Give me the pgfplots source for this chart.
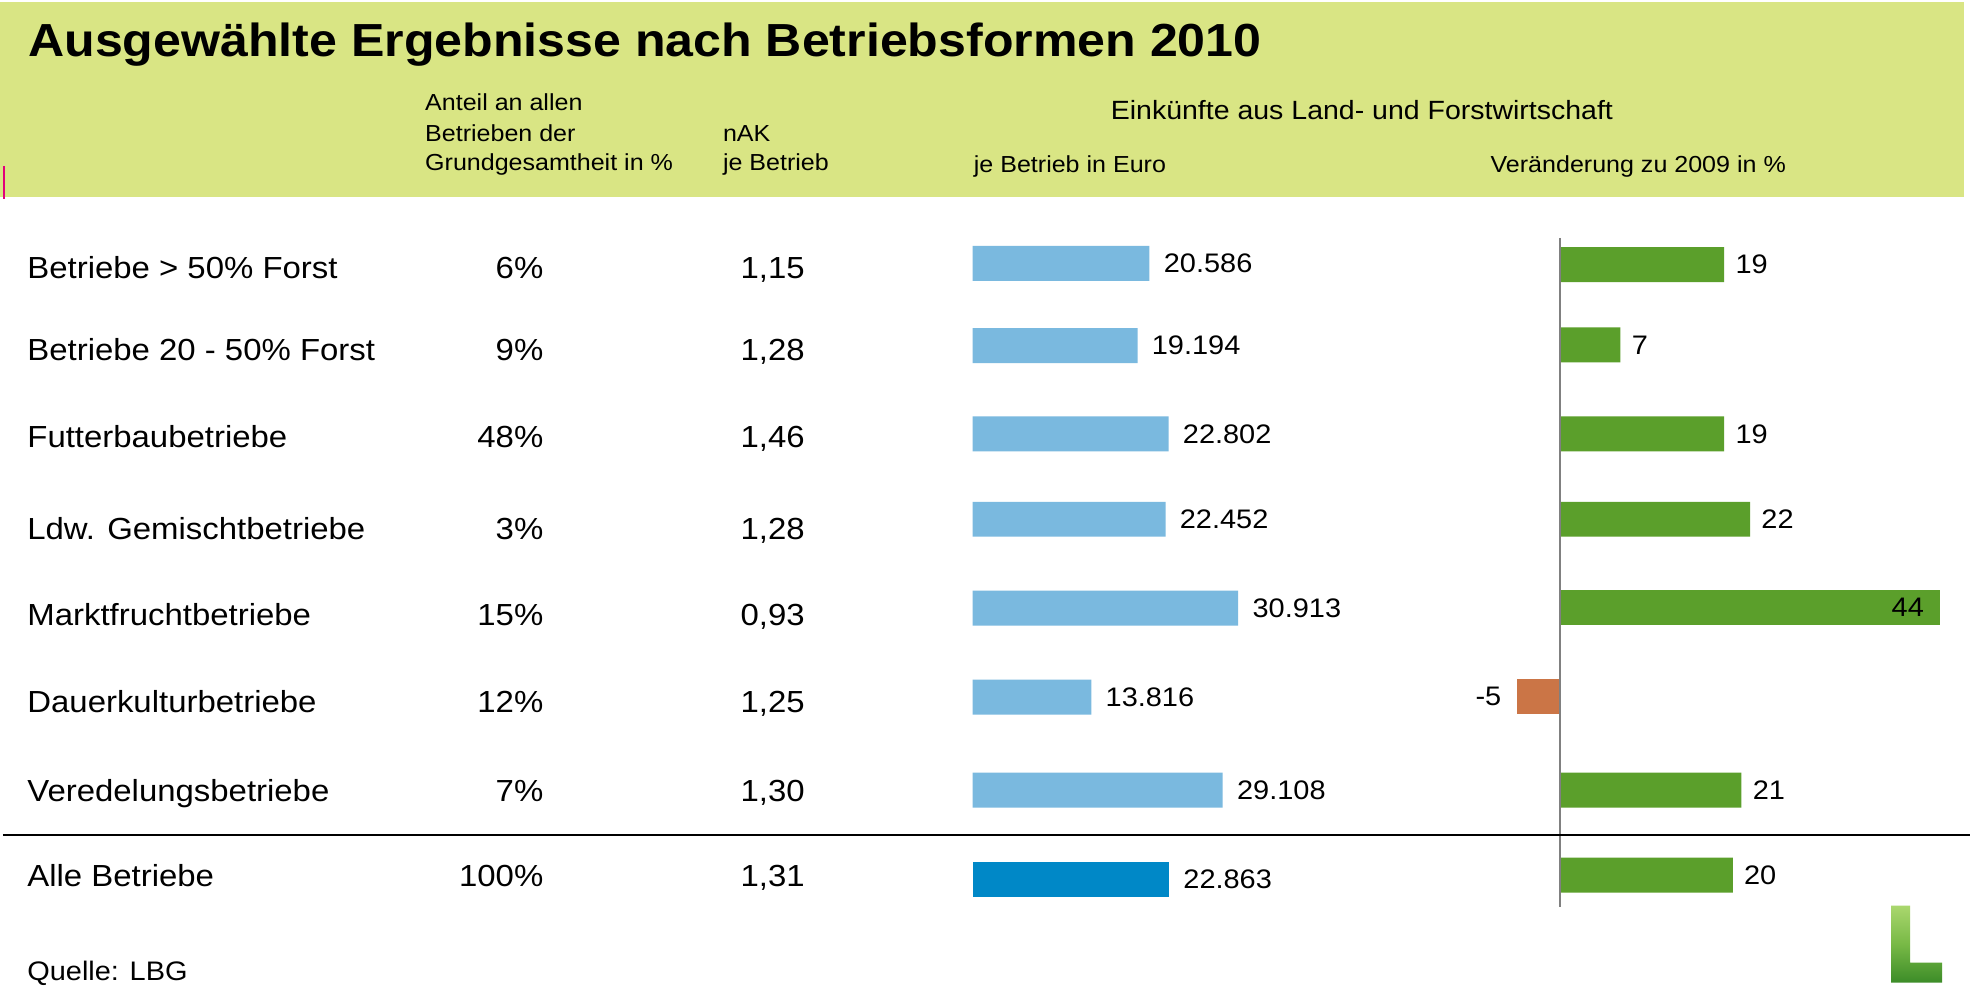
\documentclass[border=0pt]{standalone}
\usepackage{fontspec}
\setmainfont{Liberation Sans}[FakeStretch=1.08]
\usepackage{pgfplots}
\usepackage{pgfplotstable}
\pgfplotsset{compat=1.18}

\definecolor{hdr}{RGB}{217,229,132}
\definecolor{lblue}{RGB}{122,185,223}
\definecolor{dblue}{RGB}{0,136,199}
\definecolor{bgreen}{RGB}{91,159,43}
\definecolor{borange}{RGB}{203,117,70}
\definecolor{mag}{RGB}{226,0,122}
\definecolor{logotop}{RGB}{170,215,110}
\definecolor{logomid}{RGB}{120,185,70}
\definecolor{logobot}{RGB}{60,140,40}

% Einkuenfte je Betrieb in Euro (x = value, y = row position)
\pgfplotstableread{
x y label
20586 263.5 20.586
19194 345.7 19.194
22802 434 22.802
22452 519.5 22.452
30913 608.5 30.913
13816 697.5 13.816
29108 790.5 29.108
}\euroTable
\pgfplotstableread{
x y label
22863 880 22.863
}\euroAll
% Veraenderung zu 2009 in %
\pgfplotstableread{
x y label
19 264.7 19
7 345 7
19 434 19
22 519.5 22
21 790.5 21
20 875.5 20
}\chgPos
\pgfplotstableread{
x y label
44 608 44
}\chgBig
\pgfplotstableread{
x y label
-5 697 -5
}\chgNeg

\begin{document}
\begin{tikzpicture}[x=0.5pt,y=-0.5pt]
\fill[white] (0,0) rectangle (1971,996);
\fill[hdr] (0,2) rectangle (1965,197);
\draw[mag,line width=1pt] (4,166) -- (4,199);

\node[anchor=base west,inner sep=0pt,font=\fontsize{23.2pt}{28pt}\selectfont\bfseries] at (28,56.7) {Ausgewählte Ergebnisse nach Betriebsformen 2010};

\begin{scope}[every node/.style={inner sep=0pt,font=\fontsize{11.6pt}{14pt}\selectfont}]
\node[anchor=base west] at (425,110.7) {Anteil an allen};
\node[anchor=base west] at (425,141.7) {Betrieben der};
\node[anchor=base west] at (425,170.7) {Grundgesamtheit in \%};
\node[anchor=base west] at (723,141.7) {nAK};
\node[anchor=base west] at (723,170.7) {je Betrieb};
\node[anchor=base west] at (974,173) {je Betrieb in Euro};
\node[anchor=base west] at (1491,173) {Veränderung zu 2009 in \%};
\node[anchor=base west,font=\fontsize{13.2pt}{15pt}\selectfont] at (1111,120) {Einkünfte aus Land- und Forstwirtschaft};
\end{scope}

% blue bars
\begin{axis}[at={(0pt,-498pt)},anchor=south west,scale only axis,
  width=985.5pt,height=498pt,
  xmin=-113139.5,xmax=116046.5,ymin=0,ymax=996,y dir=reverse,
  axis lines=none,clip=false]
\addplot[xbar,bar shift=0pt,bar width=35,fill=lblue,draw=none,
  point meta=explicit symbolic,nodes near coords={\pgfplotspointmeta},
  every node near coord/.append style={anchor=west,inner sep=0pt,xshift=7pt,font=\fontsize{13.4pt}{16pt}\selectfont}]
  table[x=x,y=y,meta=label] {\euroTable};
\addplot[xbar,bar shift=0pt,bar width=35,fill=dblue,draw=none,
  point meta=explicit symbolic,nodes near coords={\pgfplotspointmeta},
  every node near coord/.append style={anchor=west,inner sep=0pt,xshift=7pt,font=\fontsize{13.4pt}{16pt}\selectfont}]
  table[x=x,y=y,meta=label] {\euroAll};
\end{axis}

% green bars
\begin{axis}[at={(0pt,-498pt)},anchor=south west,scale only axis,
  width=985.5pt,height=498pt,
  xmin=-180.42,xmax=47.445,ymin=0,ymax=996,y dir=reverse,
  axis lines=none,clip=false]
\addplot[xbar,bar shift=0pt,bar width=35,fill=bgreen,draw=none,
  point meta=explicit symbolic,nodes near coords={\pgfplotspointmeta},
  every node near coord/.append style={anchor=west,inner sep=0pt,xshift=5.5pt,font=\fontsize{13.4pt}{16pt}\selectfont}]
  table[x=x,y=y,meta=label] {\chgPos};
\addplot[xbar,bar shift=0pt,bar width=35,fill=bgreen,draw=none,
  point meta=explicit symbolic,nodes near coords={\pgfplotspointmeta},
  every node near coord/.append style={anchor=east,inner sep=0pt,xshift=-8pt,font=\fontsize{13.4pt}{16pt}\selectfont}]
  table[x=x,y=y,meta=label] {\chgBig};
\addplot[xbar,bar shift=0pt,bar width=35,fill=borange,draw=none,
  point meta=explicit symbolic,nodes near coords={\pgfplotspointmeta},
  every node near coord/.append style={anchor=east,inner sep=0pt,xshift=-7.5pt,font=\fontsize{13.4pt}{16pt}\selectfont}]
  table[x=x,y=y,meta=label] {\chgNeg};
\draw[gray,line width=1pt] (axis cs:0,238) -- (axis cs:0,907);
\end{axis}

\draw[black,line width=1pt] (3,835) -- (1971,835);

\begin{scope}[every node/.style={inner sep=0pt,font=\fontsize{15.25pt}{18pt}\selectfont}]
\node[anchor=base west] at (27,279) {Betriebe > 50\% Forst};
\node[anchor=base west] at (27,361) {Betriebe 20 - 50\% Forst};
\node[anchor=base west] at (27,448) {Futterbaubetriebe};
\node[anchor=base west] at (27,540) {Ldw. Gemischtbetriebe};
\node[anchor=base west] at (27,626) {Marktfruchtbetriebe};
\node[anchor=base west] at (27,713) {Dauerkulturbetriebe};
\node[anchor=base west] at (27,802) {Veredelungsbetriebe};
\node[anchor=base west] at (27,887) {Alle Betriebe};
\node[anchor=base east] at (544,279) {6\%};
\node[anchor=base east] at (544,361) {9\%};
\node[anchor=base east] at (544,448) {48\%};
\node[anchor=base east] at (544,540) {3\%};
\node[anchor=base east] at (544,626) {15\%};
\node[anchor=base east] at (544,713) {12\%};
\node[anchor=base east] at (544,802) {7\%};
\node[anchor=base east] at (544,887) {100\%};
\node[anchor=base east] at (805.5,279) {1,15};
\node[anchor=base east] at (805.5,361) {1,28};
\node[anchor=base east] at (805.5,448) {1,46};
\node[anchor=base east] at (805.5,540) {1,28};
\node[anchor=base east] at (805.5,626) {0,93};
\node[anchor=base east] at (805.5,713) {1,25};
\node[anchor=base east] at (805.5,802) {1,30};
\node[anchor=base east] at (805.5,887) {1,31};
\end{scope}

\node[anchor=base west,inner sep=0pt,font=\fontsize{13.4pt}{16pt}\selectfont] at (27,981) {Quelle: LBG};

\shade[top color=logotop,bottom color=logobot,middle color=logomid]
  (1892,906) -- (1911,906) -- (1911,963) -- (1943,963) -- (1943,983) -- (1892,983) -- cycle;
\end{tikzpicture}
\end{document}
